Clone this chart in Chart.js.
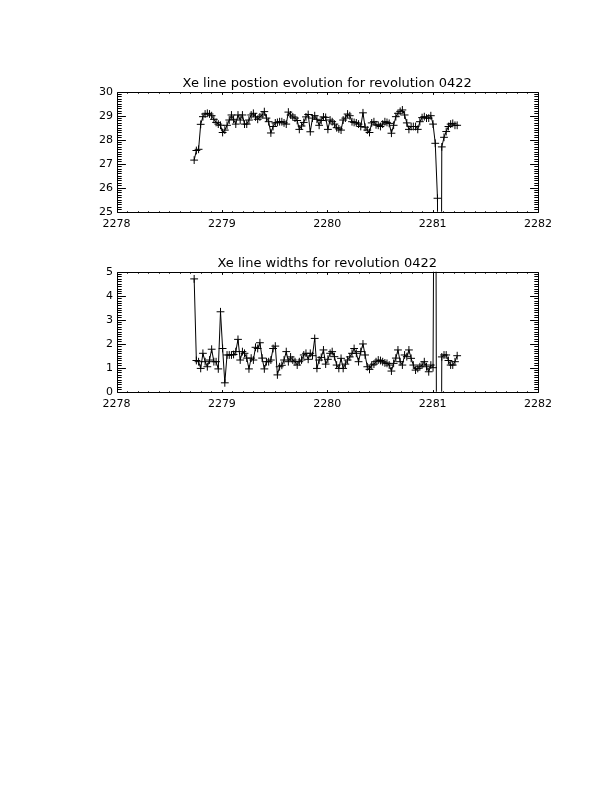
<!DOCTYPE html>
<html>
<head>
<meta charset="utf-8">
<script src="https://cdn.jsdelivr.net/npm/chart.js@4.4.1/dist/chart.umd.min.js"></script>
<style>
  html, body { margin: 0; padding: 0; background: #fff; }
  body { width: 612px; height: 792px; position: relative; overflow: hidden; }
  .box { position: absolute; left: 0; width: 612px; }
  #posBox { top: 0; height: 240px; }
  #widBox { top: 240px; height: 200px; }
</style>
</head>
<body>
<div class="box" id="posBox"><canvas id="posChart"></canvas></div>
<div class="box" id="widBox"><canvas id="widChart"></canvas></div>
<script>
// Data (time in revolution days)
const times = [
  2278.737, 2278.758, 2278.779, 2278.799, 2278.820, 2278.841, 2278.862, 2278.883, 2278.903, 2278.924,
  2278.945, 2278.966, 2278.987, 2279.007, 2279.028, 2279.049, 2279.070, 2279.091, 2279.111, 2279.132,
  2279.153, 2279.174, 2279.195, 2279.215, 2279.236, 2279.257, 2279.278, 2279.299, 2279.319, 2279.340,
  2279.361, 2279.382, 2279.403, 2279.423, 2279.444, 2279.465, 2279.486, 2279.507, 2279.527, 2279.548,
  2279.569, 2279.590, 2279.611, 2279.631, 2279.652, 2279.673, 2279.694, 2279.715, 2279.735, 2279.756,
  2279.777, 2279.798, 2279.819, 2279.839, 2279.860, 2279.881, 2279.902, 2279.923, 2279.943, 2279.964,
  2279.985, 2280.006, 2280.027, 2280.047, 2280.068, 2280.089, 2280.110, 2280.131, 2280.151, 2280.172,
  2280.193, 2280.214, 2280.235, 2280.255, 2280.276, 2280.297, 2280.318, 2280.339, 2280.359, 2280.380,
  2280.401, 2280.422, 2280.443, 2280.463, 2280.484, 2280.505, 2280.526, 2280.547, 2280.567, 2280.588,
  2280.609, 2280.630, 2280.651, 2280.671, 2280.692, 2280.713, 2280.734, 2280.755, 2280.775, 2280.796,
  2280.817, 2280.838, 2280.859, 2280.879, 2280.900, 2280.921, 2280.942, 2280.963, 2280.983, 2281.004,
  2281.025, 2281.046, 2281.067, 2281.087, 2281.108, 2281.129, 2281.150, 2281.171, 2281.191, 2281.212,
  2281.233
];

const positions = [
  27.15, 27.55, 27.6, 28.64, 28.96, 29.07, 29.1, 29.07, 29.0, 28.85,
  28.72, 28.65, 28.6, 28.3, 28.4, 28.6, 28.82, 29.03, 28.85, 28.65,
  29.03, 28.82, 29.03, 28.65, 28.65, 28.82, 29.03, 29.1, 28.95, 28.85,
  28.95, 29.03, 29.17, 28.9, 28.75, 28.28, 28.55, 28.7, 28.72, 28.75,
  28.75, 28.7, 28.65, 29.15, 29.03, 28.95, 28.9, 28.8, 28.43, 28.57,
  28.72, 28.95, 29.05, 28.33, 28.9, 29.0, 28.85, 28.6, 28.8, 28.95,
  28.93, 28.43, 28.82, 28.75, 28.65, 28.5, 28.45, 28.4, 28.82, 28.9,
  29.07, 29.0, 28.75, 28.72, 28.7, 28.65, 28.55, 29.12, 28.52, 28.4,
  28.3, 28.7, 28.75, 28.62, 28.6, 28.55, 28.65, 28.75, 28.72, 28.68,
  28.27, 28.6, 28.96, 29.1, 29.18, 29.24, 29.03, 28.7, 28.43, 28.55,
  28.55, 28.55, 28.43, 28.75, 28.92, 28.96, 28.9, 28.9, 29.0, 28.65,
  27.85, 25.56, 0, 27.7, 28.1, 28.34, 28.55, 28.65, 28.68, 28.6,
  28.6
];

const widths = [
  4.7, 1.3, 1.25, 0.97, 1.6, 1.25, 1.04, 1.32, 1.77, 1.25,
  1.25, 0.95, 3.33, 1.8, 0.37, 1.53, 1.53, 1.53, 1.55, 1.67,
  2.18, 1.32, 1.67, 1.6, 1.4, 0.95, 1.4, 1.32, 1.85, 1.8,
  2.04, 1.4, 0.95, 1.25, 1.25, 1.32, 1.8, 1.9, 0.7, 1.04,
  1.1, 1.32, 1.67, 1.25, 1.45, 1.32, 1.25, 1.11, 1.25, 1.32,
  1.53, 1.6, 1.35, 1.6, 1.5, 2.22, 0.97, 1.32, 1.43, 1.74,
  1.15, 1.35, 1.6, 1.67, 1.46, 1.11, 0.97, 1.39, 0.97, 1.15,
  1.32, 1.45, 1.6, 1.8, 1.6, 1.25, 1.67, 1.99, 1.53, 1.04,
  0.93, 1.11, 1.15, 1.25, 1.32, 1.3, 1.25, 1.2, 1.18, 1.11,
  0.86, 1.18, 1.4, 1.74, 1.25, 1.11, 1.53, 1.46, 1.74, 1.39,
  1.11, 0.9, 0.97, 1.04, 1.11, 1.25, 1.04, 0.83, 1.11, 1.0,
  20, -20, -20, 1.45, 1.53, 1.53, 1.3, 1.11, 1.11, 1.25,
  1.5
];

const xTickRange = [2278, 2282];
const posRange = [25, 30];
const widRange = [0, 5];

Chart.defaults.font.family = "'DejaVu Sans', sans-serif";
Chart.defaults.color = "#000";

// IDL style frame: box with inward major/minor ticks on all four sides,
// plus the title centred over the plot box
const idlFrame = {
  id: "idlFrame",
  afterDatasetsDraw(chart, args, opts) {
    const { ctx, chartArea: a, scales } = chart;
    const xs = scales.x, ys = scales.y;
    const L = Math.round(a.left) + 0.5, R = Math.round(a.right) + 0.5;
    const T = Math.round(a.top) + 0.5, B = Math.round(a.bottom) + 0.5;
    const xLen = 0.02 * (B - T), yLen = 0.02 * (R - L);
    ctx.save();
    ctx.strokeStyle = "#000";
    ctx.lineWidth = 1;
    ctx.beginPath();
    ctx.rect(L, T, R - L, B - T);

    const xStep = (xs.ticks[1].value - xs.ticks[0].value) / 10;
    const nx = Math.round((xs.max - xs.min) / xStep);
    for (let n = 0; n <= nx; n++) {
      const px = Math.round(xs.getPixelForValue(xs.min + n * xStep)) + 0.5;
      const len = n % 10 === 0 ? xLen : xLen / 2;
      ctx.moveTo(px, B); ctx.lineTo(px, B - len);
      ctx.moveTo(px, T); ctx.lineTo(px, T + len);
    }
    const yStep = (ys.ticks[1].value - ys.ticks[0].value) / 10;
    const ny = Math.round((ys.max - ys.min) / yStep);
    for (let n = 0; n <= ny; n++) {
      const py = Math.round(ys.getPixelForValue(ys.min + n * yStep)) + 0.5;
      const len = n % 10 === 0 ? yLen : yLen / 2;
      ctx.moveTo(L, py); ctx.lineTo(L + len, py);
      ctx.moveTo(R, py); ctx.lineTo(R - len, py);
    }
    ctx.stroke();

    if (opts.text) {
      ctx.fillStyle = "#000";
      ctx.font = "13px 'DejaVu Sans', sans-serif";
      ctx.textAlign = "center";
      ctx.textBaseline = "alphabetic";
      ctx.fillText(opts.text, (a.left + a.right) / 2, a.top - 5);
    }
    ctx.restore();
  }
};

function makeChart(id, title, values, yRange, pad) {
  return new Chart(document.getElementById(id), {
    type: "scatter",
    data: {
      datasets: [{
        data: times.map((t, i) => ({ x: t, y: values[i] })),
        showLine: true,
        borderColor: "#000",
        borderWidth: 1,
        tension: 0,
        pointStyle: "cross",
        pointRadius: 3.9,
        pointBorderColor: "#000",
        pointBorderWidth: 1,
        clip: 0
      }]
    },
    options: {
      responsive: true,
      maintainAspectRatio: false,
      animation: false,
      layout: { padding: pad },
      plugins: {
        legend: { display: false },
        tooltip: { enabled: false },
        title: { display: false },
        idlFrame: { text: title }
      },
      scales: {
        x: {
          type: "linear",
          min: xTickRange[0],
          max: xTickRange[1],
          grid: { display: false, drawTicks: false },
          border: { display: false },
          ticks: {
            stepSize: 1,
            maxRotation: 0,
            padding: 6,
            font: { size: 11 },
            callback: (v) => String(v)
          },
          afterFit: (s) => { s.height = 20; s.paddingLeft = 0; s.paddingRight = 0; }
        },
        y: {
          min: yRange[0],
          max: yRange[1],
          grid: { display: false, drawTicks: false },
          border: { display: false },
          ticks: { stepSize: 1, padding: 3.5, font: { size: 11 } },
          afterFit: (s) => { s.width = 116.5; s.paddingTop = 0; s.paddingBottom = 0; }
        }
      }
    },
    plugins: [idlFrame]
  });
}

makeChart("posChart", "Xe line postion evolution for revolution 0422", positions, posRange,
  { top: 91.7, left: 0, right: 74, bottom: 8.3 });
makeChart("widChart", "Xe line widths for revolution 0422", widths, widRange,
  { top: 31.7, left: 0, right: 74, bottom: 28.3 });
</script>
</body>
</html>
